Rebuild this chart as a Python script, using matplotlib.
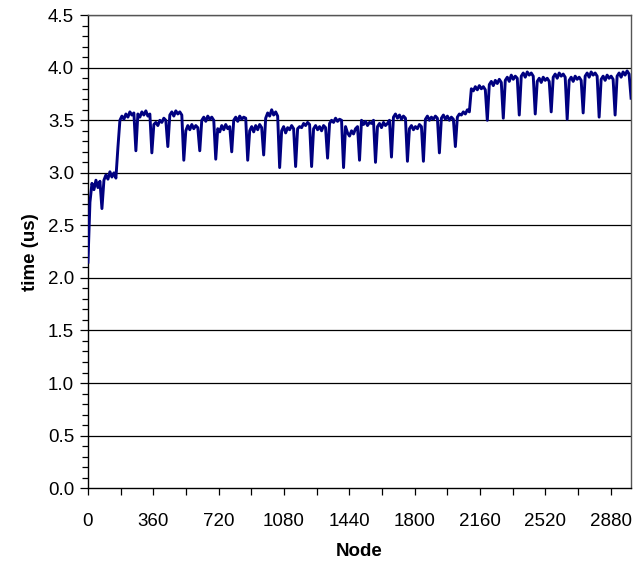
import numpy as np
import matplotlib
matplotlib.use('Agg')
import matplotlib.pyplot as plt
from matplotlib.ticker import MultipleLocator, FormatStrFormatter

# 노드 샘플 간격 (11 노드마다 한 값)
node_step = 11

# time (us) — 그림에서 읽은 값
time_us = [
  2.15, 2.72, 2.90, 2.84, 2.93, 2.86, 2.92, 2.66,
  2.93, 2.98, 2.94, 3.01, 2.96, 3.00, 2.95, 3.24,
  3.50, 3.54, 3.51, 3.56, 3.53, 3.58, 3.55, 3.57,
  3.21, 3.56, 3.53, 3.58, 3.55, 3.59, 3.54, 3.56,
  3.19, 3.46, 3.48, 3.45, 3.50, 3.48, 3.52, 3.50,
  3.25, 3.55, 3.58, 3.54, 3.59, 3.56, 3.58, 3.55,
  3.12, 3.40, 3.45, 3.41, 3.46, 3.42, 3.45, 3.43,
  3.21, 3.50, 3.53, 3.49, 3.54, 3.51, 3.53, 3.50,
  3.13, 3.42, 3.39, 3.45, 3.41, 3.46, 3.42, 3.44,
  3.20, 3.50, 3.53, 3.49, 3.54, 3.51, 3.53, 3.52,
  3.12, 3.40, 3.44, 3.39, 3.45, 3.41, 3.46, 3.43,
  3.17, 3.52, 3.57, 3.54, 3.60, 3.55, 3.58, 3.54,
  3.05, 3.40, 3.44, 3.38, 3.43, 3.41, 3.45, 3.42,
  3.06, 3.42, 3.44, 3.43, 3.47, 3.45, 3.48, 3.46,
  3.06, 3.42, 3.45, 3.41, 3.44, 3.40, 3.45, 3.43,
  3.14, 3.47, 3.50, 3.48, 3.52, 3.49, 3.51, 3.50,
  3.05, 3.44, 3.38, 3.35, 3.40, 3.37, 3.42, 3.44,
  3.12, 3.50, 3.46, 3.49, 3.45, 3.48, 3.47, 3.50,
  3.10, 3.44, 3.47, 3.43, 3.48, 3.45, 3.47, 3.50,
  3.15, 3.53, 3.56, 3.52, 3.55, 3.51, 3.54, 3.52,
  3.11, 3.42, 3.45, 3.41, 3.44, 3.42, 3.46, 3.44,
  3.11, 3.51, 3.54, 3.50, 3.53, 3.51, 3.54, 3.52,
  3.19, 3.52, 3.55, 3.51, 3.54, 3.50, 3.53, 3.51,
  3.25, 3.53, 3.56, 3.55, 3.58, 3.56, 3.60, 3.58,
  3.80, 3.78, 3.82, 3.79, 3.83, 3.80, 3.82, 3.79,
  3.50, 3.84, 3.87, 3.83, 3.88, 3.85, 3.89, 3.86,
  3.52, 3.88, 3.91, 3.87, 3.93, 3.89, 3.92, 3.90,
  3.55, 3.92, 3.95, 3.91, 3.96, 3.93, 3.95, 3.92,
  3.56, 3.87, 3.90, 3.86, 3.91, 3.88, 3.90, 3.87,
  3.58, 3.91, 3.94, 3.90, 3.95, 3.92, 3.94, 3.91,
  3.51, 3.88, 3.91, 3.87, 3.92, 3.89, 3.91, 3.88,
  3.57, 3.92, 3.95, 3.91, 3.96, 3.93, 3.95, 3.92,
  3.53, 3.89, 3.92, 3.88, 3.93, 3.90, 3.92, 3.89,
  3.55, 3.92, 3.95, 3.91, 3.96, 3.93, 3.97, 3.94,
  3.71,
]
node = np.arange(len(time_us)) * node_step

x_major = [0, 360, 720, 1080, 1440, 1800, 2160, 2520, 2880]

plt.rcParams['font.family'] = ['Liberation Sans', 'DejaVu Sans']

fig = plt.figure(figsize=(6.42, 5.63), dpi=100)
ax = fig.add_axes([0.137, 0.133, 0.846, 0.840])

# 가로 격자선
for v in np.arange(0.5, 4.51, 0.5):
  ax.axhline(v, color='#000000', lw=0.9, zorder=1)

ax.plot(node, time_us, color='#000080', lw=2.1, zorder=3)

ax.set_xlim(0, 2992)
ax.set_ylim(0, 4.5)

ax.set_xticks(x_major)
ax.xaxis.set_minor_locator(MultipleLocator(180))
ax.yaxis.set_major_locator(MultipleLocator(0.5))
ax.yaxis.set_minor_locator(MultipleLocator(0.1))
ax.yaxis.set_major_formatter(FormatStrFormatter('%.1f'))

ax.tick_params(axis='both', which='both', direction='out', color='#000000', labelsize=13.5)
ax.tick_params(axis='x', which='both', length=5, width=0.9, pad=13)
ax.tick_params(axis='y', which='major', length=6, width=0.9, pad=4)
ax.tick_params(axis='y', which='minor', length=4, width=0.9)

for side in ['left', 'bottom']:
  ax.spines[side].set_color('#000000')
  ax.spines[side].set_linewidth(1.0)
for side in ['top', 'right']:
  ax.spines[side].set_color('#555555')
  ax.spines[side].set_linewidth(1.0)

ax.set_xlabel('Node', fontsize=13.5, fontweight='bold', labelpad=9)
ax.set_ylabel('time (us)', fontsize=13.5, fontweight='bold', labelpad=6)

fig.savefig('out.png', dpi=100)
